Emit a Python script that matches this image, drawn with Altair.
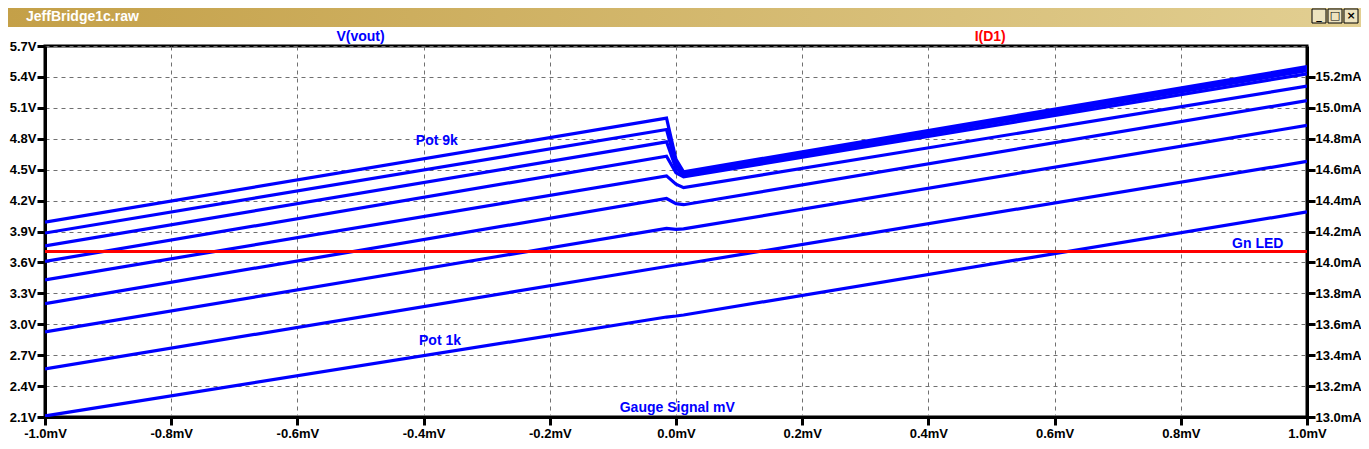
import altair as alt
import pandas as pd

# ---- data ----
x_mv = [-1.0, -0.015, 0.0, 0.012, 1.0]
pot_names = ["Pot 9k", "Pot 8k", "Pot 7k", "Pot 6k", "Pot 5k", "Pot 4k", "Pot 3k", "Pot 2k", "Pot 1k"]
v_pot9k = [3.99, 5.00, 4.60, 4.48, 5.50]
v_pot8k = [3.885, 4.89, 4.55, 4.47, 5.48]
v_pot7k = [3.76, 4.77, 4.51, 4.45, 5.46]
v_pot6k = [3.61, 4.63, 4.47, 4.43, 5.43]
v_pot5k = [3.43, 4.44, 4.36, 4.325, 5.31]
v_pot4k = [3.20, 4.22, 4.17, 4.16, 5.17]
v_pot3k = [2.925, 3.93, 3.92, 3.925, 4.93]
v_pot2k = [2.566, 3.56, 3.575, 3.585, 4.58]
v_pot1k = [2.11, 3.07, 3.08, 3.09, 4.09]
pot_values = [v_pot9k, v_pot8k, v_pot7k, v_pot6k, v_pot5k, v_pot4k, v_pot3k, v_pot2k, v_pot1k]

id1_x = [-1.0, 1.0]
id1_ma = [14.07, 14.07]

v_ticks = [2.1, 2.4, 2.7, 3.0, 3.3, 3.6, 3.9, 4.2, 4.5, 4.8, 5.1, 5.4, 5.7]
i_ticks = [13.0, 13.2, 13.4, 13.6, 13.8, 14.0, 14.2, 14.4, 14.6, 14.8, 15.0, 15.2]
x_ticks = [-1.0, -0.8, -0.6, -0.4, -0.2, 0.0, 0.2, 0.4, 0.6, 0.8, 1.0]

ann_text = ["Pot 9k", "Pot 1k", "Gn LED", "Gauge Signal mV", "V(vout)", "I(D1)"]
ann_x = [-0.379, -0.374, 0.922, 0.002, -0.50, 0.498]
ann_y = [4.78, 2.837, 3.779, 2.187, 5.787, 5.787]
ann_color = ["#0000FF", "#0000FF", "#0000FF", "#0000FF", "#0000FF", "#FF0000"]

window_title = ["JeffBridge1c.raw"]
button_glyphs = ["_", "□", "×"]

# ---- tables ----
rows = []
for name, vals in zip(pot_names, pot_values):
    for i, (xv, yv) in enumerate(zip(x_mv, vals)):
        rows.append({"pot": name, "x": xv, "v": yv, "i": i})
df_lines = pd.DataFrame(rows)
df_id1 = pd.DataFrame({"x": id1_x, "ma": id1_ma})
df_ann = pd.DataFrame({"t": ann_text, "x": ann_x, "y": ann_y, "c": ann_color})

FONT = "Liberation Sans"
W, H = 1262, 371

xscale = alt.Scale(domain=[-1.0, 1.0], nice=False, zero=False)
vscale = alt.Scale(domain=[2.1, 5.7], nice=False, zero=False)
iscale = alt.Scale(domain=[13.0, 15.4], nice=False, zero=False)

x_axis = alt.Axis(values=x_ticks,
                  labelExpr="(datum.value < -0.001 ? '-' : '') + format(abs(datum.value), '.1f') + 'mV'",
                  title=None, grid=True, gridColor="#707070", gridDash=[4, 4],
                  gridWidth=1, tickSize=8, tickWidth=3, tickColor="black",
                  domainColor="black", domainWidth=3, labelPadding=2,
                  labelFont=FONT, labelFontSize=13, labelFontWeight="bold", labelColor="black",
                  labelFlush=False, labelOverlap=False)

v_axis = alt.Axis(values=v_ticks, labelExpr="format(datum.value, '.1f') + 'V'",
                  title=None, grid=True, gridColor="#707070", gridDash=[4, 4],
                  gridWidth=1, tickSize=8, tickWidth=3, tickColor="black",
                  domainColor="black", domainWidth=3, labelPadding=1,
                  labelFont=FONT, labelFontSize=13, labelFontWeight="bold", labelColor="black",
                  labelFlush=False, labelOverlap=False, orient="left")

i_axis = alt.Axis(values=i_ticks, labelExpr="format(datum.value, '.1f') + 'mA'",
                  title=None, grid=False, tickSize=8, tickWidth=3, tickColor="black",
                  domainColor="black", domainWidth=3, labelPadding=0,
                  labelFont=FONT, labelFontSize=13, labelFontWeight="bold", labelColor="black",
                  labelFlush=False, labelOverlap=False, orient="right")

lines = alt.Chart(df_lines).mark_line(color="#0000FF", strokeWidth=3.2, clip=True).encode(
    x=alt.X("x:Q", scale=xscale, axis=x_axis),
    y=alt.Y("v:Q", scale=vscale, axis=v_axis),
    detail="pot:N",
    order="i:O",
)

ann = alt.Chart(df_ann).mark_text(font=FONT, fontSize=14, fontWeight="bold",
                                  align="center", baseline="middle").encode(
    x=alt.X("x:Q", scale=xscale, axis=x_axis),
    y=alt.Y("y:Q", scale=vscale, axis=v_axis),
    text="t:N",
    color=alt.Color("c:N", scale=None),
)

# window title bar (decoration)
bar = alt.Chart(pd.DataFrame({"k": [0]})).mark_rect(
    fill=alt.Gradient(gradient="linear", x1=0, x2=1, y1=0, y2=0,
                      stops=[alt.GradientStop(color="#C4A048", offset=0),
                             alt.GradientStop(color="#E2CF92", offset=1)])
).encode(x=alt.value(-37), x2=alt.value(W + 54), y=alt.value(-38), y2=alt.value(-19))

bar_text = alt.Chart(pd.DataFrame({"t": window_title})).mark_text(
    font=FONT, fontSize=14, fontWeight="bold", color="white", align="left",
    baseline="middle").encode(x=alt.value(-19), y=alt.value(-29), text="t:N")

deco = [bar, bar_text]
for k, g in enumerate(button_glyphs):
    x0 = W + 5 + 16 * k
    deco.append(alt.Chart(pd.DataFrame({"g": [g]})).mark_rect(
        fill="#EDE3BE", stroke="black", strokeWidth=1).encode(
        x=alt.value(x0), x2=alt.value(x0 + 14), y=alt.value(-37), y2=alt.value(-23)))
    deco.append(alt.Chart(pd.DataFrame({"g": [g]})).mark_text(
        font="DejaVu Sans", fontSize=11, fontWeight="bold", color="black",
        align="center", baseline="middle").encode(
        x=alt.value(x0 + 7), y=alt.value(-30), text="g:N"))

left = alt.layer(lines, ann, *deco)

red = alt.Chart(df_id1).mark_line(color="#FF0000", strokeWidth=3, clip=True).encode(
    x=alt.X("x:Q", scale=xscale, axis=x_axis),
    y=alt.Y("ma:Q", scale=iscale, axis=i_axis),
)

chart = alt.layer(left, red).resolve_scale(y="independent").properties(
    width=W, height=H,
    autosize=alt.AutoSizeParams(type="none"),
    padding={"left": 37, "top": 38, "right": 54, "bottom": 24},
    background="white",
).configure_view(stroke="black", strokeWidth=3)

chart.save("out.html", embed_options={"renderer": "svg", "actions": False})
